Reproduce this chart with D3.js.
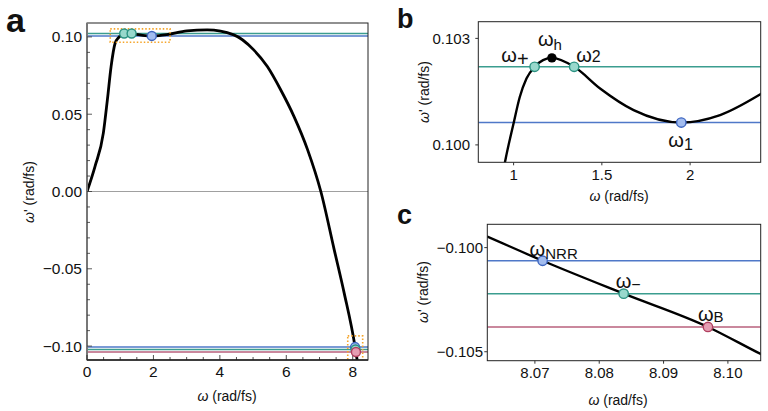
<!DOCTYPE html>
<html><head><meta charset="utf-8">
<script src="https://cdn.jsdelivr.net/npm/d3@7"></script>
<style>
body{margin:0;background:#fff;}
text{font-family:"Liberation Sans",Arial,Helvetica,sans-serif;fill:#111;}
</style></head>
<body><svg id="c" width="768" height="411"></svg>
<script>
// ---- data ----
const curveW  = [0, 0.242, 0.493, 0.614, 0.725, 0.846, 0.951, 1.0, 1.035, 1.073, 1.119, 1.167, 1.217, 1.343, 1.49, 1.68, 1.95, 2.17, 2.4, 3.01, 3.62, 4.42, 5.02, 5.43, 5.83, 6.23, 6.64, 7.04, 7.44, 7.74, 8.0626, 8.0712, 8.0838, 8.0969, 8.1051, 8.14];
const curveWp = [0, 0.0163, 0.0379, 0.0594, 0.0808, 0.0959, 0.09951, 0.10061, 0.10135, 0.10187, 0.1022, 0.10239, 0.10245, 0.1022, 0.10159, 0.10098, 0.10063, 0.10084, 0.10143, 0.1039, 0.1045, 0.1013, 0.0916, 0.0808, 0.0658, 0.0486, 0.0271, 0, -0.0374, -0.0654, -0.09947, -0.10063, -0.10221, -0.10381, -0.10511, -0.1098];
const levelNames  = ["teal", "blue", "blueN", "tealN", "red"];
const levelValues = [0.1022, 0.10063, -0.10063, -0.10221, -0.10381];
const topNames = ["+", "2", "1"];
const topW     = [1.119, 1.343, 1.95];
const topWp    = [0.1022, 0.1022, 0.10063];
const topKind  = ["teal", "teal", "blue"];
const humpW = 1.217, humpWp = 0.10245;
const botNames = ["NRR", "\u2212", "B"];
const botW     = [8.0712, 8.0838, 8.0969];
const botWp    = [-0.10063, -0.10221, -0.10381];
const botKind  = ["blue", "teal", "red"];
const ticksAx = [0, 2, 4, 6, 8];
const ticksAy = [-0.10, -0.05, 0.00, 0.05, 0.10];
const ticksBx = [1, 1.5, 2];
const ticksBy = [0.100, 0.103];
const ticksCx = [8.07, 8.08, 8.09, 8.10];
const ticksCy = [-0.105, -0.100];
const boxTop = [0.7, 2.5, 0.0965, 0.1052];
const boxBot = [7.85, 8.30, -0.1095, -0.0934];

// ---- styles ----
const lineCol = {teal:"#3b9d8f", blue:"#4f78c8", red:"#b9607c"};
const fillCol = {teal:"#98d8cc", blue:"#a2bcef", red:"#e59db2"};
const strokeCol = {teal:"#2b9282", blue:"#3e66c0", red:"#b0405f"};
const kindOf = n => n.startsWith("teal") ? "teal" : n.startsWith("blue") ? "blue" : "red";

const svg = d3.select("#c");
const pts = curveW.map((w,i)=>[w, curveWp[i]]);

function panel(id, x0, x1, y0, y1, xd, yd) {
  const x = d3.scaleLinear().domain(xd).range([x0, x1]);
  const y = d3.scaleLinear().domain(yd).range([y1, y0]);
  svg.append("clipPath").attr("id", id).append("rect")
    .attr("x", x0).attr("y", y0).attr("width", x1-x0).attr("height", y1-y0);
  const g = svg.append("g");
  const inner = g.append("g").attr("clip-path", `url(#${id})`);
  return {x, y, g, inner, x0, x1, y0, y1};
}
function curve(p, w) {
  p.inner.append("path").datum(pts)
    .attr("d", d3.line().x(d=>p.x(d[0])).y(d=>p.y(d[1])).curve(d3.curveMonotoneX))
    .attr("fill","none").attr("stroke","#000").attr("stroke-width", w);
}
function levels(p, names, w) {
  names.forEach(n=>{
    const v = levelValues[levelNames.indexOf(n)];
    p.inner.append("line").attr("x1",p.x0).attr("x2",p.x1)
      .attr("y1",p.y(v)).attr("y2",p.y(v))
      .attr("stroke", lineCol[kindOf(n)]).attr("stroke-width", w);
  });
}
function marker(p, w, wp, k, r) {
  p.g.append("circle").attr("cx",p.x(w)).attr("cy",p.y(wp)).attr("r",r)
    .attr("fill", fillCol[k]).attr("stroke", strokeCol[k]).attr("stroke-width",1.4);
}
function frame(p, leftCol, lw) {
  p.g.append("rect").attr("x",p.x0).attr("y",p.y0).attr("width",p.x1-p.x0).attr("height",p.y1-p.y0)
    .attr("fill","none").attr("stroke","#222").attr("stroke-width",1);
}
function omegaLabel(p, tx, ty, sub, anchor, subSize, subDy) {
  const t = p.g.append("text").attr("x",tx).attr("y",ty).attr("text-anchor",anchor||"start")
    .style("font-size","20px");
  t.append("tspan").text("\u03c9");
  t.append("tspan").attr("dy", subDy).style("font-size", subSize+"px").text(sub);
}

// ================= Panel a =================
const A = panel("ca", 87, 368, 23, 360, [0, 8.46], [-0.109, 0.109]);
A.inner.append("line").attr("x1",A.x0).attr("x2",A.x1).attr("y1",A.y(0)).attr("y2",A.y(0))
  .attr("stroke","#888").attr("stroke-width",0.8);
levels(A, levelNames, 1.6);
curve(A, 2.8);
// orange dotted boxes
[boxTop, boxBot].forEach(b=>{
  A.inner.append("rect").attr("x",A.x(b[0])).attr("y",A.y(b[3]))
    .attr("width",A.x(b[1])-A.x(b[0])).attr("height",A.y(b[2])-A.y(b[3]))
    .attr("fill","none").attr("stroke","#f5a52a").attr("stroke-width",1.6).attr("stroke-dasharray","1.5,2");
});
frame(A);
// left & bottom gray axes
A.g.append("line").attr("x1",A.x0).attr("x2",A.x0).attr("y1",A.y0).attr("y2",A.y1).attr("stroke","#777").attr("stroke-width",2);
A.g.append("line").attr("x1",A.x0).attr("x2",A.x1).attr("y1",A.y1).attr("y2",A.y1).attr("stroke","#222").attr("stroke-width",1.5);
// ticks
d3.range(0, 8.46, 0.5).forEach(v=>{
  const major = Math.abs(v - Math.round(v/2)*2) < 1e-9;
  A.g.append("line").attr("x1",A.x(v)).attr("x2",A.x(v)).attr("y1",A.y1).attr("y2",A.y1-(major?5:3)).attr("stroke","#222").attr("stroke-width",0.8);
});
d3.range(-10, 11, 1).forEach(k=>{
  const v = k/100, major = k%5===0;
  A.g.append("line").attr("x1",A.x0).attr("x2",A.x0+(major?5:3)).attr("y1",A.y(v)).attr("y2",A.y(v)).attr("stroke","#333").attr("stroke-width",0.8);
});
ticksAx.forEach(v=>A.g.append("text").attr("x",A.x(v)).attr("y",377).attr("text-anchor","middle").style("font-size","15.5px").text(v));
ticksAy.forEach(v=>A.g.append("text").attr("x",82).attr("y",A.y(v)+5.5).attr("text-anchor","end").style("font-size","15.5px").text(d3.format(".2f")(v)));
// markers a
topW.forEach((w,i)=>marker(A, w, topWp[i], topKind[i], 4.5));
botW.forEach((w,i)=>marker(A, w, botWp[i], botKind[i], 4.5));

// ================= Panel b =================
const B = panel("cb", 478.3, 760.7, 21.7, 162.3, [0.8, 2.4], [0.09951, 0.10347]);
levels(B, ["teal","blue"], 1.5);
curve(B, 2.4);
frame(B);
ticksBx.forEach(v=>{
  B.g.append("line").attr("x1",B.x(v)).attr("x2",B.x(v)).attr("y1",B.y1).attr("y2",B.y1+3).attr("stroke","#333");
  B.g.append("text").attr("x",B.x(v)).attr("y",180).attr("text-anchor","middle").style("font-size","15px").text(v);
});
ticksBy.forEach(v=>{
  B.g.append("line").attr("x1",B.x0-3).attr("x2",B.x0).attr("y1",B.y(v)).attr("y2",B.y(v)).attr("stroke","#333");
  B.g.append("text").attr("x",470).attr("y",B.y(v)+5.5).attr("text-anchor","end").style("font-size","15px").text(d3.format(".3f")(v));
});
topW.forEach((w,i)=>marker(B, w, topWp[i], topKind[i], 4.7));
B.g.append("circle").attr("cx",B.x(humpW)).attr("cy",B.y(humpWp)).attr("r",4.7).attr("fill","#000");
omegaLabel(B, B.x(topW[0])-6, B.y(topWp[0])-5, "+", "end", 20, 4);
omegaLabel(B, B.x(humpW)-14, B.y(humpWp)-12, "h", "start", 15, 4);
omegaLabel(B, B.x(topW[1])+2, B.y(topWp[1])-5, "2", "start", 16, 0);
omegaLabel(B, B.x(topW[2])-13, B.y(topWp[2])+24, "1", "start", 16, 3);

// ================= Panel c =================
const C = panel("cc", 487.3, 760.7, 224.3, 360.7, [8.0626, 8.1051], [-0.10543, -0.09888]);
levels(C, ["blueN","tealN","red"], 1.5);
curve(C, 2.4);
frame(C);
ticksCx.forEach(v=>{
  C.g.append("line").attr("x1",C.x(v)).attr("x2",C.x(v)).attr("y1",C.y1).attr("y2",C.y1+3).attr("stroke","#333");
  C.g.append("text").attr("x",C.x(v)).attr("y",378).attr("text-anchor","middle").style("font-size","15px").text(d3.format(".2f")(v));
});
ticksCy.forEach(v=>{
  C.g.append("line").attr("x1",C.x0-3).attr("x2",C.x0).attr("y1",C.y(v)).attr("y2",C.y(v)).attr("stroke","#333");
  C.g.append("text").attr("x",483).attr("y",C.y(v)+5.5).attr("text-anchor","end").style("font-size","15px").text(d3.format(".3f")(v));
});
botW.forEach((w,i)=>marker(C, w, botWp[i], botKind[i], 4.7));
omegaLabel(C, C.x(botW[0])-13, C.y(botWp[0])-5, "NRR", "start", 15, 3);
omegaLabel(C, C.x(botW[1])-8, C.y(botWp[1])-6, "\u2212", "start", 16, 2);
omegaLabel(C, C.x(botW[2])-10, C.y(botWp[2])-6, "B", "start", 15, 1);

// ---- axis titles ----
function xTitle(cx, y) {
  const t = svg.append("text").attr("x",cx).attr("y",y).attr("text-anchor","middle").style("font-size","14px");
  t.append("tspan").style("font-style","italic").text("\u03c9");
  t.append("tspan").text(" (rad/fs)");
}
function yTitle(x, cy) {
  const t = svg.append("text").attr("transform",`translate(${x},${cy}) rotate(-90)`).attr("text-anchor","middle").style("font-size","14px");
  t.append("tspan").style("font-style","italic").text("\u03c9");
  t.append("tspan").text("' (rad/fs)");
}
xTitle(227, 401); xTitle(619, 201); xTitle(618, 405);
yTitle(34, 192); yTitle(429, 92); yTitle(428, 292);

// ---- panel letters ----
svg.append("text").attr("x",6).attr("y",32).style("font-size","34px").style("font-weight","bold").text("a");
svg.append("text").attr("x",397).attr("y",28).style("font-size","27px").style("font-weight","bold").text("b");
svg.append("text").attr("x",397).attr("y",224).style("font-size","27px").style("font-weight","bold").text("c");
</script></body></html>
